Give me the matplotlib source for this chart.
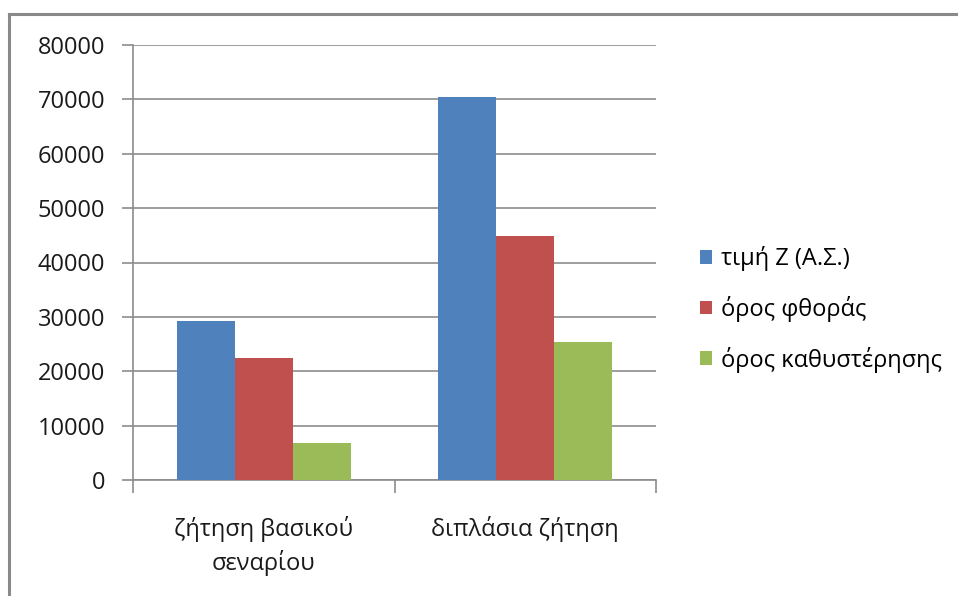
import matplotlib.pyplot as plt
import numpy as np

plt.rcParams["font.family"] = ["Open Sans", "DejaVu Sans"]

# ── Data ──────────────────────────────────────────────────────────────────────
categories = ["ζήτηση βασικού\nσεναρίου", "διπλάσια ζήτηση"]
series_names = ["τιμή Ζ (Α.Σ.)", "όρος φθοράς", "όρος καθυστέρησης"]
z_value = [29300, 70500]
wear_term = [22400, 44900]
delay_term = [6800, 25300]
y_ticks = [0, 10000, 20000, 30000, 40000, 50000, 60000, 70000, 80000]

colors = ["#4F81BD", "#C0504D", "#9BBB59"]
grid_col = "#8c8c8c"
FS = 17

# ── Figure ────────────────────────────────────────────────────────────────────
fig = plt.figure(figsize=(9.58, 5.96), dpi=100)
W, H = 958, 596
ax = fig.add_axes([133 / W, 1 - 480 / H, (656 - 133) / W, (480 - 45) / H])

x = np.arange(len(categories))
width = 1 / 4.5  # Excel-style gap width 150 %
for i, (vals, name) in enumerate(zip([z_value, wear_term, delay_term], series_names)):
    ax.bar(x + (i - 1) * width, vals, width, color=colors[i], label=name,
           zorder=3, linewidth=0)

ax.set_xlim(-0.5, len(categories) - 0.5)
ax.set_ylim(0, 80000)
ax.set_yticks(y_ticks)
ax.set_yticklabels([str(t) for t in y_ticks], fontsize=FS, color="#1a1a1a")
ax.yaxis.grid(True, color=grid_col, linewidth=1.2, zorder=0)

# category labels sit between boundary ticks
ax.set_xticks(np.arange(-0.5, len(categories)), minor=False)
ax.set_xticklabels([])
ax.set_xticks(x, minor=True)
ax.set_xticklabels(categories, minor=True, fontsize=FS, color="#1a1a1a",
                   linespacing=1.4)
ax.tick_params(axis="x", which="minor", length=0, pad=26)
ax.tick_params(axis="x", which="major", length=9, width=1.2, color=grid_col,
               direction="out")
ax.tick_params(axis="y", length=8, width=1.2, color=grid_col, pad=12)

for side in ["top", "right"]:
    ax.spines[side].set_visible(False)
for side in ["left", "bottom"]:
    ax.spines[side].set_color(grid_col)
    ax.spines[side].set_linewidth(1.2)

leg = ax.legend(loc="center left", bbox_to_anchor=(1.043, 0.392), frameon=False,
                fontsize=FS, handlelength=0.5, handleheight=0.5,
                handletextpad=0.38, labelspacing=1.04)

# outer chart frame (top and left edges visible)
fig.add_artist(plt.Line2D([9 / W, 9 / W], [0, 1 - 14 / H], color="#8a8a8a",
                          linewidth=2.2, transform=fig.transFigure))
fig.add_artist(plt.Line2D([9 / W, 1], [1 - 14 / H, 1 - 14 / H], color="#8a8a8a",
                          linewidth=2.2, transform=fig.transFigure))

fig.savefig("out.png", dpi=100)
